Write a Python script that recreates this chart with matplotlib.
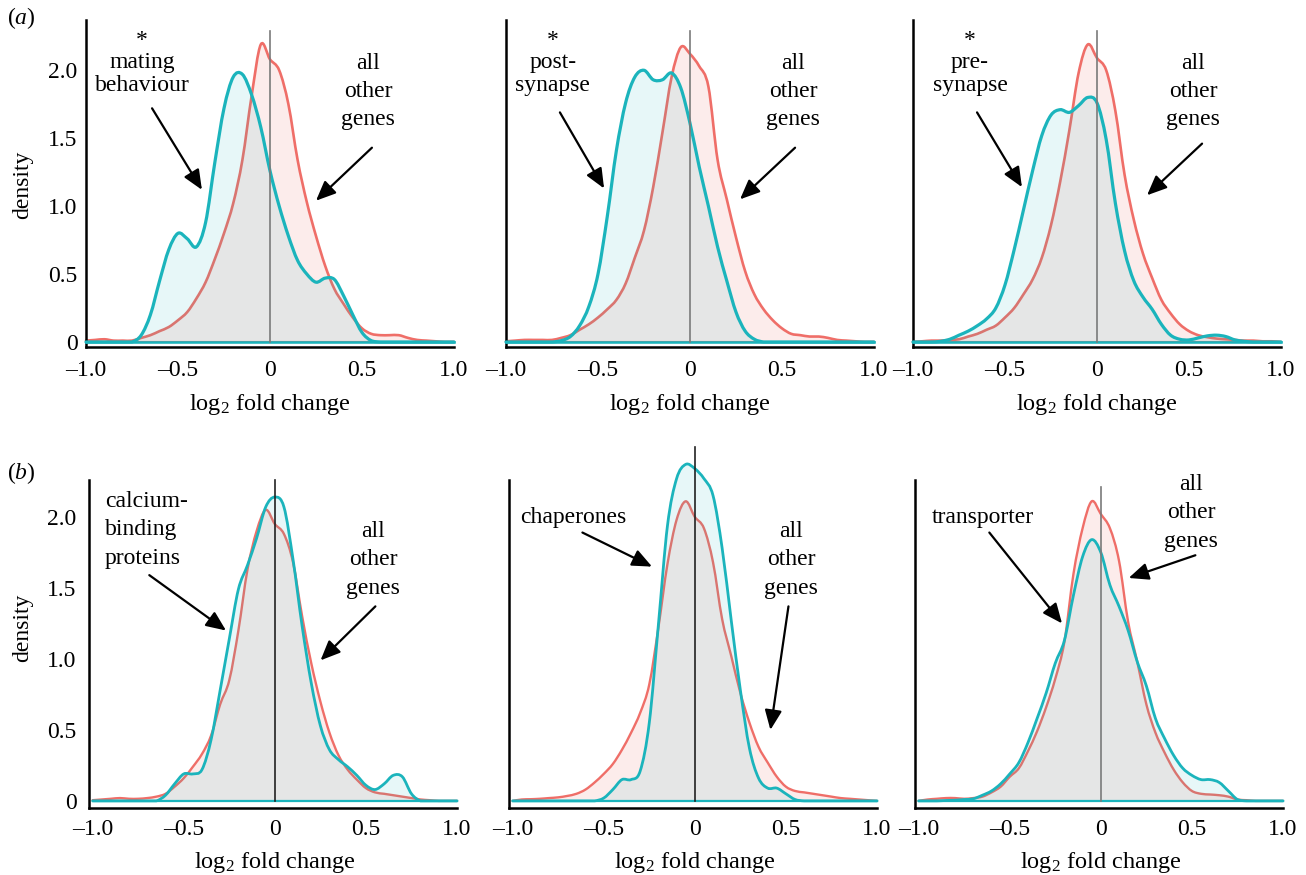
import matplotlib.pyplot as plt
import numpy as np
from matplotlib.path import Path
from matplotlib.patches import PathPatch

plt.rcParams['font.family'] = ['Liberation Serif', 'DejaVu Serif']
plt.rcParams['mathtext.fontset'] = 'custom'
plt.rcParams['mathtext.rm'] = 'Liberation Serif'
plt.rcParams['mathtext.it'] = 'Liberation Serif:italic'
plt.rcParams['mathtext.default'] = 'regular'

RED = '#ef6e68'
TEAL = '#1bb4bc'

# log2 fold change positions where the densities were read
fold = np.linspace(-1.0, 1.0, 41)

# (a) mating behaviour / post-synapse / pre-synapse vs all other genes
mating = [0, 0, 0, 0, 0, 0, 0.05, 0.2, 0.45, 0.68, 0.80, 0.76, 0.70, 0.88, 1.32, 1.72, 1.95, 1.97,
          1.82, 1.58, 1.26, 1.0, 0.78, 0.60, 0.50, 0.44, 0.47, 0.46, 0.34, 0.20, 0.07, 0.01,
          0, 0, 0, 0, 0, 0, 0, 0, 0]
other_a1 = [0.01, 0.015, 0.02, 0.01, 0.01, 0.01, 0.03, 0.05, 0.08, 0.11, 0.16, 0.22, 0.32, 0.44, 0.61,
            0.80, 1.02, 1.34, 1.81, 2.19, 2.08, 2.0, 1.75, 1.34, 1.03, 0.78, 0.56, 0.39, 0.28, 0.18,
            0.10, 0.06, 0.05, 0.05, 0.05, 0.03, 0.015, 0.01, 0.005, 0, 0]
post_syn = [0, 0, 0, 0, 0, 0, 0.01, 0.04, 0.12, 0.26, 0.50, 0.92, 1.41, 1.76, 1.95, 2.0, 1.93, 1.93,
            1.98, 1.87, 1.61, 1.29, 1.0, 0.70, 0.45, 0.22, 0.08, 0.02, 0, 0, 0, 0, 0, 0, 0, 0, 0,
            0, 0, 0, 0]
other_a2 = [0.005, 0.01, 0.015, 0.015, 0.015, 0.015, 0.03, 0.05, 0.09, 0.13, 0.18, 0.24, 0.31, 0.43,
            0.62, 0.82, 1.14, 1.54, 1.95, 2.17, 2.12, 2.03, 1.88, 1.34, 1.05, 0.77, 0.52, 0.35, 0.24,
            0.16, 0.10, 0.06, 0.05, 0.04, 0.04, 0.03, 0.015, 0.01, 0.005, 0, 0]
pre_syn = [0, 0, 0, 0.005, 0.02, 0.05, 0.08, 0.12, 0.17, 0.25, 0.42, 0.68, 0.97, 1.26, 1.52, 1.67,
           1.71, 1.69, 1.74, 1.80, 1.76, 1.49, 1.02, 0.67, 0.45, 0.33, 0.24, 0.13, 0.05, 0.02, 0.015,
           0.03, 0.045, 0.05, 0.04, 0.015, 0.005, 0, 0, 0, 0]
other_a3 = [0, 0.005, 0.01, 0.01, 0.015, 0.02, 0.04, 0.06, 0.09, 0.12, 0.18, 0.25, 0.35, 0.46, 0.62,
            0.86, 1.18, 1.56, 1.98, 2.19, 2.09, 2.0, 1.70, 1.23, 0.90, 0.65, 0.47, 0.31, 0.21, 0.13,
            0.08, 0.05, 0.035, 0.025, 0.02, 0.015, 0.01, 0.01, 0.005, 0.005, 0]

# (b) calcium-binding proteins / chaperones / transporter vs all other genes
calcium = [0, 0, 0, 0, 0, 0, 0, 0, 0.04, 0.12, 0.19, 0.19, 0.22, 0.43, 0.78, 1.14, 1.49, 1.66, 1.85,
           2.07, 2.14, 2.07, 1.70, 1.23, 0.83, 0.53, 0.36, 0.29, 0.24, 0.18, 0.11, 0.08, 0.12, 0.18,
           0.17, 0.05, 0, 0, 0, 0, 0]
other_b1 = [0.005, 0.01, 0.015, 0.02, 0.015, 0.015, 0.02, 0.03, 0.05, 0.10, 0.16, 0.24, 0.33, 0.46,
            0.68, 0.85, 1.20, 1.63, 1.90, 2.05, 1.95, 1.88, 1.68, 1.30, 0.97, 0.70, 0.48, 0.32, 0.22,
            0.15, 0.09, 0.06, 0.05, 0.04, 0.03, 0.02, 0.01, 0.005, 0, 0, 0]
chaperones = [0, 0, 0, 0, 0, 0, 0, 0, 0, 0, 0.02, 0.08, 0.15, 0.15, 0.21, 0.55, 1.24, 1.94, 2.27,
              2.37, 2.34, 2.27, 2.15, 1.78, 1.27, 0.78, 0.37, 0.16, 0.09, 0.09, 0.05, 0.01, 0, 0,
              0, 0, 0, 0, 0, 0, 0]
other_b2 = [0, 0.01, 0.012, 0.015, 0.02, 0.025, 0.035, 0.05, 0.08, 0.13, 0.19, 0.26, 0.36, 0.48, 0.62,
            0.82, 1.22, 1.67, 1.98, 2.11, 2.0, 1.92, 1.68, 1.28, 1.02, 0.76, 0.55, 0.38, 0.27, 0.17,
            0.10, 0.07, 0.06, 0.05, 0.04, 0.03, 0.02, 0.015, 0.01, 0.005, 0]
transporter = [0, 0, 0, 0.003, 0.005, 0.01, 0.015, 0.04, 0.07, 0.12, 0.19, 0.27, 0.41, 0.58, 0.76,
               0.97, 1.13, 1.45, 1.72, 1.84, 1.75, 1.52, 1.37, 1.20, 0.98, 0.81, 0.58, 0.44, 0.32,
               0.23, 0.18, 0.15, 0.15, 0.13, 0.07, 0.01, 0, 0, 0, 0, 0]
other_b3 = [0, 0.01, 0.015, 0.02, 0.02, 0.015, 0.02, 0.03, 0.06, 0.10, 0.17, 0.23, 0.35, 0.49, 0.66,
            0.86, 1.12, 1.60, 1.92, 2.11, 2.02, 1.92, 1.69, 1.26, 0.98, 0.68, 0.48, 0.34, 0.22, 0.13,
            0.07, 0.05, 0.045, 0.04, 0.03, 0.01, 0.005, 0, 0, 0, 0]

xticks = [-1.0, -0.5, 0, 0.5, 1.0]
xticklabels = ['\u20131.0', '\u20130.5', '0', '0.5', '1.0']
yticks = [0, 0.5, 1.0, 1.5, 2.0]
yticklabels = ['0', '0.5', '1.0', '1.5', '2.0']

W, H = 1306, 875
fig = plt.figure(figsize=(W / 100, H / 100), dpi=100)


def make_axes(left, top, bottom, width=368):
    return fig.add_axes([left / W, (H - bottom) / H, width / W, (bottom - top) / H])


def curve_path(xs, ys, closed=False):
    # smooth bezier through the read points (catmull-rom style handles)
    pts = np.column_stack([xs, ys]).astype(float)
    n = len(pts)
    verts = [pts[0]]
    codes = [Path.MOVETO]
    for i in range(n - 1):
        p0, p1 = pts[max(i - 1, 0)], pts[i]
        p2, p3 = pts[i + 1], pts[min(i + 2, n - 1)]
        c1 = p1 + (p2 - p0) / 6
        c2 = p2 - (p3 - p1) / 6
        c1[1] = max(c1[1], 0)
        c2[1] = max(c2[1], 0)
        verts += [c1, c2, p2]
        codes += [Path.CURVE4] * 3
    if closed:
        verts += [(xs[-1], 0), (xs[0], 0), (xs[0], 0)]
        codes += [Path.LINETO, Path.LINETO, Path.CLOSEPOLY]
    return Path(verts, codes)


def draw_density(ax, ys, color, alpha, lw, z):
    ax.add_patch(PathPatch(curve_path(fold, ys, closed=True), facecolor=color, alpha=alpha,
                           lw=0, zorder=z, clip_on=False))
    ax.add_patch(PathPatch(curve_path(fold, ys), fill=False, edgecolor=color, lw=lw,
                           zorder=z + 1, clip_on=False, joinstyle='round', capstyle='round'))
    ax.plot([fold[0], fold[-1]], [0, 0], color=color, lw=lw * 0.8, zorder=z + 1, clip_on=False)


panels = [
    dict(row=0, left=86, group=mating, other=other_a1,
         left_text=(-0.696, [(2.18, '*'), (2.02, 'mating'), (1.85, 'behaviour')], 'center'),
         right_text=(0.533, [2.01, 1.80, 1.60]),
         arrows=[((-0.641, 1.72), (-0.370, 1.12)), ((0.554, 1.43), (0.250, 1.04))],
         vline=(2.29, '#7a7a7a')),
    dict(row=0, left=506, group=post_syn, other=other_a2,
         left_text=(-0.745, [(2.18, '*'), (2.02, 'post-'), (1.85, 'synapse')], 'center'),
         right_text=(0.560, [2.01, 1.80, 1.60]),
         arrows=[((-0.707, 1.69), (-0.467, 1.13)), ((0.571, 1.43), (0.272, 1.05))],
         vline=(2.29, '#7a7a7a')),
    dict(row=0, left=913, group=pre_syn, other=other_a3,
         left_text=(-0.69, [(2.18, '*'), (2.02, 'pre-'), (1.85, 'synapse')], 'center'),
         right_text=(0.522, [2.01, 1.80, 1.60]),
         arrows=[((-0.652, 1.69), (-0.408, 1.14)), ((0.571, 1.46), (0.272, 1.08))],
         vline=(2.29, '#7a7a7a')),
    dict(row=1, left=89, group=calcium, other=other_b1,
         left_text=(-0.934, [(2.07, 'calcium-'), (1.87, 'binding'), (1.67, 'proteins')], 'left'),
         right_text=(0.541, [1.86, 1.66, 1.46]),
         arrows=[((-0.689, 1.59), (-0.268, 1.20)), ((0.552, 1.37), (0.251, 0.99))],
         vline=(2.26, '#222222')),
    dict(row=1, left=509, group=chaperones, other=other_b2,
         left_text=(-0.667, [(1.96, 'chaperones')], 'center'),
         right_text=(0.530, [1.86, 1.66, 1.46]),
         arrows=[((-0.617, 1.89), (-0.235, 1.65)), ((0.514, 1.37), (0.415, 0.50))],
         vline=(2.49, '#222222')),
    dict(row=1, left=915, group=transporter, other=other_b3,
         left_text=(-0.645, [(1.96, 'transporter')], 'center'),
         right_text=(0.497, [2.19, 1.99, 1.79]),
         arrows=[((-0.612, 1.89), (-0.213, 1.25)), ((0.519, 1.73), (0.153, 1.57))],
         vline=(2.21, '#7a7a7a')),
]

for i, p in enumerate(panels):
    if p['row'] == 0:
        ax = make_axes(p['left'], 20, 347)
        ax.set_xlim(-1.0, 1.0)
        ax.set_ylim(-0.037, 2.37)
        xpad, ypad, lab_y, lw_t, lw_r = 9, 6, -0.50, 2.3, 1.9
    else:
        ax = make_axes(p['left'], 480, 808)
        ax.set_xlim(-1.02, 0.99)
        ax.set_ylim(-0.05, 2.26)
        xpad, ypad, lab_y, lw_t, lw_r = 8, 9, -0.472, 2.0, 1.7

    for s in ['top', 'right']:
        ax.spines[s].set_visible(False)
    for s in ['left', 'bottom']:
        ax.spines[s].set_linewidth(1.8)
        ax.spines[s].set_color('black')
    ax.patch.set_visible(False)

    draw_density(ax, p['other'], RED, 0.13, lw_r, 1)
    draw_density(ax, p['group'], TEAL, 0.10, lw_t, 3)

    vtop, vcol = p['vline']
    ax.plot([0, 0], [0, vtop], color=vcol, lw=1.2, zorder=5, clip_on=False)

    ax.set_xticks(xticks)
    ax.set_xticklabels(xticklabels)
    ax.tick_params(axis='x', length=0, labelsize=17, pad=xpad)
    if i % 3 == 0:
        ax.set_yticks(yticks)
        ax.set_yticklabels(yticklabels)
        ax.tick_params(axis='y', length=0, labelsize=17, pad=ypad)
    else:
        ax.set_yticks([])

    ax.text(0, lab_y, 'log$_2$ fold change', ha='center', va='baseline', fontsize=17.5,
            clip_on=False)

    tx, lines, ha = p['left_text']
    for ty, s in lines:
        ax.text(tx, ty, s, ha=ha, va='baseline', fontsize=17, clip_on=False)
    rx, rys = p['right_text']
    for ty, s in zip(rys, ['all', 'other', 'genes']):
        ax.text(rx, ty, s, ha='center', va='baseline', fontsize=17, clip_on=False)

    for tail, tip in p['arrows']:
        ax.annotate('', xy=tip, xytext=tail, annotation_clip=False,
                    arrowprops=dict(arrowstyle='-|>,head_length=0.6,head_width=0.26',
                                    color='black', lw=1.6, shrinkA=0, shrinkB=0,
                                    mutation_scale=20))

fig.text(23 / W, 1 - 185 / H, 'density', rotation=90, ha='center', va='center', fontsize=17)
fig.text(23 / W, 1 - 628 / H, 'density', rotation=90, ha='center', va='center', fontsize=17)
fig.text(7 / W, 1 - 24 / H, '($\\mathit{a}$)', ha='left', va='baseline', fontsize=17)
fig.text(7 / W, 1 - 479 / H, '($\\mathit{b}$)', ha='left', va='baseline', fontsize=17)

fig.savefig('out.png', dpi=100)
